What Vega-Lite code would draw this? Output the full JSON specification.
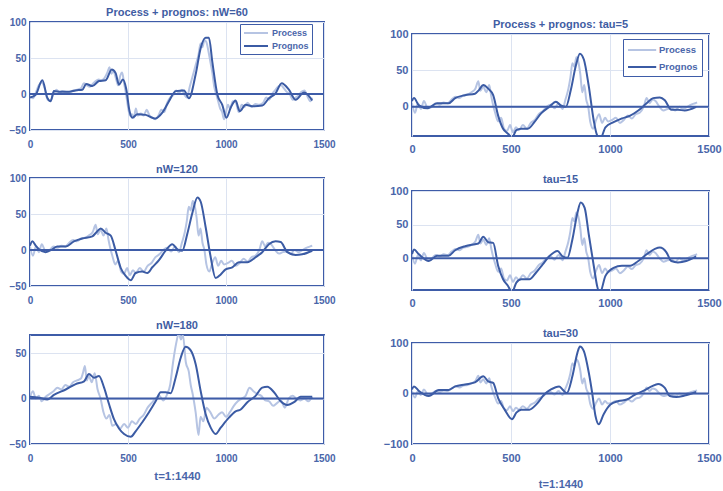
{
"$schema":"https://vega.github.io/schema/vega-lite/v6.json",
"padding":{"left":8,"top":6,"right":0,"bottom":3},
"background":"white",
"datasets":{"d":[
{"p":"P1","s":"Process","t":0,"v":-3},{"p":"P1","s":"Process","t":15,"v":-6},{"p":"P1","s":"Process","t":30,"v":2},{"p":"P1","s":"Process","t":45,"v":12},{"p":"P1","s":"Process","t":60,"v":16},{"p":"P1","s":"Process","t":75,"v":8},{"p":"P1","s":"Process","t":90,"v":-8},{"p":"P1","s":"Process","t":105,"v":-9},{"p":"P1","s":"Process","t":120,"v":0},{"p":"P1","s":"Process","t":135,"v":6},{"p":"P1","s":"Process","t":150,"v":2},{"p":"P1","s":"Process","t":165,"v":4},{"p":"P1","s":"Process","t":180,"v":3},{"p":"P1","s":"Process","t":200,"v":2},{"p":"P1","s":"Process","t":220,"v":5},{"p":"P1","s":"Process","t":240,"v":6},{"p":"P1","s":"Process","t":260,"v":8},{"p":"P1","s":"Process","t":275,"v":15},{"p":"P1","s":"Process","t":290,"v":12},{"p":"P1","s":"Process","t":305,"v":10},{"p":"P1","s":"Process","t":320,"v":14},{"p":"P1","s":"Process","t":335,"v":18},{"p":"P1","s":"Process","t":350,"v":20},{"p":"P1","s":"Process","t":365,"v":19},{"p":"P1","s":"Process","t":380,"v":22},{"p":"P1","s":"Process","t":395,"v":30},{"p":"P1","s":"Process","t":405,"v":37},{"p":"P1","s":"Process","t":415,"v":28},{"p":"P1","s":"Process","t":425,"v":32},{"p":"P1","s":"Process","t":440,"v":20},{"p":"P1","s":"Process","t":450,"v":12},{"p":"P1","s":"Process","t":460,"v":25},{"p":"P1","s":"Process","t":470,"v":30},{"p":"P1","s":"Process","t":480,"v":15},{"p":"P1","s":"Process","t":490,"v":0},{"p":"P1","s":"Process","t":500,"v":-18},{"p":"P1","s":"Process","t":510,"v":-30},{"p":"P1","s":"Process","t":520,"v":-28},{"p":"P1","s":"Process","t":530,"v":-33},{"p":"P1","s":"Process","t":540,"v":-20},{"p":"P1","s":"Process","t":550,"v":-30},{"p":"P1","s":"Process","t":565,"v":-27},{"p":"P1","s":"Process","t":580,"v":-30},{"p":"P1","s":"Process","t":595,"v":-22},{"p":"P1","s":"Process","t":610,"v":-30},{"p":"P1","s":"Process","t":625,"v":-33},{"p":"P1","s":"Process","t":640,"v":-35},{"p":"P1","s":"Process","t":655,"v":-30},{"p":"P1","s":"Process","t":670,"v":-22},{"p":"P1","s":"Process","t":685,"v":-25},{"p":"P1","s":"Process","t":700,"v":-12},{"p":"P1","s":"Process","t":715,"v":-5},{"p":"P1","s":"Process","t":730,"v":-2},{"p":"P1","s":"Process","t":745,"v":5},{"p":"P1","s":"Process","t":760,"v":2},{"p":"P1","s":"Process","t":775,"v":6},{"p":"P1","s":"Process","t":790,"v":-2},{"p":"P1","s":"Process","t":800,"v":-5},{"p":"P1","s":"Process","t":815,"v":10},{"p":"P1","s":"Process","t":830,"v":25},{"p":"P1","s":"Process","t":845,"v":40},{"p":"P1","s":"Process","t":860,"v":55},{"p":"P1","s":"Process","t":870,"v":70},{"p":"P1","s":"Process","t":880,"v":65},{"p":"P1","s":"Process","t":890,"v":75},{"p":"P1","s":"Process","t":900,"v":72},{"p":"P1","s":"Process","t":910,"v":60},{"p":"P1","s":"Process","t":920,"v":45},{"p":"P1","s":"Process","t":930,"v":30},{"p":"P1","s":"Process","t":940,"v":10},{"p":"P1","s":"Process","t":950,"v":0},{"p":"P1","s":"Process","t":960,"v":-10},{"p":"P1","s":"Process","t":970,"v":-20},{"p":"P1","s":"Process","t":980,"v":-25},{"p":"P1","s":"Process","t":990,"v":-35},{"p":"P1","s":"Process","t":1000,"v":-25},{"p":"P1","s":"Process","t":1010,"v":-15},{"p":"P1","s":"Process","t":1020,"v":-20},{"p":"P1","s":"Process","t":1035,"v":-10},{"p":"P1","s":"Process","t":1050,"v":-12},{"p":"P1","s":"Process","t":1065,"v":-25},{"p":"P1","s":"Process","t":1080,"v":-15},{"p":"P1","s":"Process","t":1095,"v":-18},{"p":"P1","s":"Process","t":1110,"v":-12},{"p":"P1","s":"Process","t":1130,"v":-18},{"p":"P1","s":"Process","t":1150,"v":-14},{"p":"P1","s":"Process","t":1170,"v":-15},{"p":"P1","s":"Process","t":1190,"v":-12},{"p":"P1","s":"Process","t":1205,"v":-5},{"p":"P1","s":"Process","t":1220,"v":-8},{"p":"P1","s":"Process","t":1235,"v":0},{"p":"P1","s":"Process","t":1250,"v":5},{"p":"P1","s":"Process","t":1265,"v":10},{"p":"P1","s":"Process","t":1280,"v":12},{"p":"P1","s":"Process","t":1295,"v":8},{"p":"P1","s":"Process","t":1310,"v":3},{"p":"P1","s":"Process","t":1325,"v":0},{"p":"P1","s":"Process","t":1340,"v":-8},{"p":"P1","s":"Process","t":1355,"v":-5},{"p":"P1","s":"Process","t":1370,"v":-2},{"p":"P1","s":"Process","t":1385,"v":3},{"p":"P1","s":"Process","t":1400,"v":5},{"p":"P1","s":"Process","t":1415,"v":-3},{"p":"P1","s":"Process","t":1430,"v":-10},{"p":"P1","s":"Process","t":1440,"v":-5},
{"p":"L1","s":"Prognos","t":0,"v":-5},{"p":"L1","s":"Prognos","t":29,"v":-1},{"p":"L1","s":"Prognos","t":63,"v":19},{"p":"L1","s":"Prognos","t":88,"v":-5},{"p":"L1","s":"Prognos","t":105,"v":-10},{"p":"L1","s":"Prognos","t":122,"v":4},{"p":"L1","s":"Prognos","t":156,"v":3},{"p":"L1","s":"Prognos","t":199,"v":3},{"p":"L1","s":"Prognos","t":233,"v":5},{"p":"L1","s":"Prognos","t":267,"v":6},{"p":"L1","s":"Prognos","t":287,"v":14},{"p":"L1","s":"Prognos","t":318,"v":11},{"p":"L1","s":"Prognos","t":352,"v":18},{"p":"L1","s":"Prognos","t":386,"v":19},{"p":"L1","s":"Prognos","t":417,"v":34},{"p":"L1","s":"Prognos","t":437,"v":29},{"p":"L1","s":"Prognos","t":454,"v":13},{"p":"L1","s":"Prognos","t":474,"v":20},{"p":"L1","s":"Prognos","t":491,"v":7},{"p":"L1","s":"Prognos","t":508,"v":-24},{"p":"L1","s":"Prognos","t":522,"v":-33},{"p":"L1","s":"Prognos","t":548,"v":-28},{"p":"L1","s":"Prognos","t":590,"v":-29},{"p":"L1","s":"Prognos","t":624,"v":-33},{"p":"L1","s":"Prognos","t":641,"v":-34},{"p":"L1","s":"Prognos","t":675,"v":-26},{"p":"L1","s":"Prognos","t":709,"v":-10},{"p":"L1","s":"Prognos","t":743,"v":4},{"p":"L1","s":"Prognos","t":786,"v":5},{"p":"L1","s":"Prognos","t":811,"v":-6},{"p":"L1","s":"Prognos","t":845,"v":27},{"p":"L1","s":"Prognos","t":871,"v":64},{"p":"L1","s":"Prognos","t":896,"v":78},{"p":"L1","s":"Prognos","t":913,"v":78},{"p":"L1","s":"Prognos","t":930,"v":45},{"p":"L1","s":"Prognos","t":956,"v":-1},{"p":"L1","s":"Prognos","t":981,"v":-15},{"p":"L1","s":"Prognos","t":1002,"v":-33},{"p":"L1","s":"Prognos","t":1024,"v":-19},{"p":"L1","s":"Prognos","t":1049,"v":-9},{"p":"L1","s":"Prognos","t":1070,"v":-24},{"p":"L1","s":"Prognos","t":1100,"v":-15},{"p":"L1","s":"Prognos","t":1134,"v":-17},{"p":"L1","s":"Prognos","t":1185,"v":-16},{"p":"L1","s":"Prognos","t":1219,"v":-6},{"p":"L1","s":"Prognos","t":1253,"v":1},{"p":"L1","s":"Prognos","t":1284,"v":15},{"p":"L1","s":"Prognos","t":1321,"v":6},{"p":"L1","s":"Prognos","t":1355,"v":-8},{"p":"L1","s":"Prognos","t":1398,"v":2},{"p":"L1","s":"Prognos","t":1440,"v":-9},
{"p":"PB","s":"Process","t":0,"v":5},{"p":"PB","s":"Process","t":15,"v":-8},{"p":"PB","s":"Process","t":30,"v":5},{"p":"PB","s":"Process","t":45,"v":-3},{"p":"PB","s":"Process","t":60,"v":8},{"p":"PB","s":"Process","t":80,"v":-2},{"p":"PB","s":"Process","t":100,"v":0},{"p":"PB","s":"Process","t":120,"v":5},{"p":"PB","s":"Process","t":140,"v":3},{"p":"PB","s":"Process","t":160,"v":6},{"p":"PB","s":"Process","t":180,"v":5},{"p":"PB","s":"Process","t":200,"v":10},{"p":"PB","s":"Process","t":220,"v":14},{"p":"PB","s":"Process","t":240,"v":12},{"p":"PB","s":"Process","t":260,"v":16},{"p":"PB","s":"Process","t":280,"v":17},{"p":"PB","s":"Process","t":300,"v":20},{"p":"PB","s":"Process","t":320,"v":25},{"p":"PB","s":"Process","t":335,"v":35},{"p":"PB","s":"Process","t":345,"v":22},{"p":"PB","s":"Process","t":360,"v":28},{"p":"PB","s":"Process","t":375,"v":20},{"p":"PB","s":"Process","t":390,"v":30},{"p":"PB","s":"Process","t":400,"v":15},{"p":"PB","s":"Process","t":410,"v":2},{"p":"PB","s":"Process","t":420,"v":-8},{"p":"PB","s":"Process","t":435,"v":-20},{"p":"PB","s":"Process","t":450,"v":-15},{"p":"PB","s":"Process","t":465,"v":-30},{"p":"PB","s":"Process","t":480,"v":-33},{"p":"PB","s":"Process","t":495,"v":-25},{"p":"PB","s":"Process","t":510,"v":-35},{"p":"PB","s":"Process","t":525,"v":-28},{"p":"PB","s":"Process","t":540,"v":-32},{"p":"PB","s":"Process","t":560,"v":-25},{"p":"PB","s":"Process","t":580,"v":-30},{"p":"PB","s":"Process","t":600,"v":-22},{"p":"PB","s":"Process","t":620,"v":-18},{"p":"PB","s":"Process","t":640,"v":-10},{"p":"PB","s":"Process","t":660,"v":-6},{"p":"PB","s":"Process","t":680,"v":0},{"p":"PB","s":"Process","t":700,"v":3},{"p":"PB","s":"Process","t":720,"v":-2},{"p":"PB","s":"Process","t":740,"v":5},{"p":"PB","s":"Process","t":760,"v":-3},{"p":"PB","s":"Process","t":775,"v":10},{"p":"PB","s":"Process","t":790,"v":25},{"p":"PB","s":"Process","t":800,"v":40},{"p":"PB","s":"Process","t":810,"v":60},{"p":"PB","s":"Process","t":820,"v":55},{"p":"PB","s":"Process","t":830,"v":68},{"p":"PB","s":"Process","t":840,"v":62},{"p":"PB","s":"Process","t":850,"v":45},{"p":"PB","s":"Process","t":860,"v":20},{"p":"PB","s":"Process","t":870,"v":30},{"p":"PB","s":"Process","t":880,"v":10},{"p":"PB","s":"Process","t":890,"v":0},{"p":"PB","s":"Process","t":900,"v":-20},{"p":"PB","s":"Process","t":915,"v":-30},{"p":"PB","s":"Process","t":930,"v":-18},{"p":"PB","s":"Process","t":945,"v":-10},{"p":"PB","s":"Process","t":960,"v":-22},{"p":"PB","s":"Process","t":975,"v":-15},{"p":"PB","s":"Process","t":990,"v":-20},{"p":"PB","s":"Process","t":1010,"v":-18},{"p":"PB","s":"Process","t":1030,"v":-15},{"p":"PB","s":"Process","t":1050,"v":-22},{"p":"PB","s":"Process","t":1070,"v":-18},{"p":"PB","s":"Process","t":1090,"v":-12},{"p":"PB","s":"Process","t":1110,"v":-16},{"p":"PB","s":"Process","t":1130,"v":-10},{"p":"PB","s":"Process","t":1150,"v":-8},{"p":"PB","s":"Process","t":1170,"v":0},{"p":"PB","s":"Process","t":1185,"v":12},{"p":"PB","s":"Process","t":1200,"v":5},{"p":"PB","s":"Process","t":1215,"v":10},{"p":"PB","s":"Process","t":1230,"v":8},{"p":"PB","s":"Process","t":1250,"v":0},{"p":"PB","s":"Process","t":1270,"v":-5},{"p":"PB","s":"Process","t":1290,"v":-3},{"p":"PB","s":"Process","t":1310,"v":-2},{"p":"PB","s":"Process","t":1330,"v":-5},{"p":"PB","s":"Process","t":1350,"v":0},{"p":"PB","s":"Process","t":1370,"v":-3},{"p":"PB","s":"Process","t":1390,"v":0},{"p":"PB","s":"Process","t":1410,"v":3},{"p":"PB","s":"Process","t":1430,"v":5},{"p":"PB","s":"Process","t":1440,"v":6},
{"p":"L2","s":"Prognos","t":0,"v":6},{"p":"L2","s":"Prognos","t":12,"v":12},{"p":"L2","s":"Prognos","t":29,"v":6},{"p":"L2","s":"Prognos","t":46,"v":1},{"p":"L2","s":"Prognos","t":80,"v":-3},{"p":"L2","s":"Prognos","t":114,"v":1},{"p":"L2","s":"Prognos","t":139,"v":5},{"p":"L2","s":"Prognos","t":182,"v":5},{"p":"L2","s":"Prognos","t":224,"v":12},{"p":"L2","s":"Prognos","t":267,"v":16},{"p":"L2","s":"Prognos","t":318,"v":19},{"p":"L2","s":"Prognos","t":340,"v":25},{"p":"L2","s":"Prognos","t":361,"v":30},{"p":"L2","s":"Prognos","t":386,"v":24},{"p":"L2","s":"Prognos","t":412,"v":20},{"p":"L2","s":"Prognos","t":437,"v":-1},{"p":"L2","s":"Prognos","t":463,"v":-25},{"p":"L2","s":"Prognos","t":488,"v":-36},{"p":"L2","s":"Prognos","t":514,"v":-42},{"p":"L2","s":"Prognos","t":539,"v":-32},{"p":"L2","s":"Prognos","t":573,"v":-30},{"p":"L2","s":"Prognos","t":599,"v":-32},{"p":"L2","s":"Prognos","t":624,"v":-24},{"p":"L2","s":"Prognos","t":658,"v":-14},{"p":"L2","s":"Prognos","t":692,"v":-1},{"p":"L2","s":"Prognos","t":726,"v":8},{"p":"L2","s":"Prognos","t":752,"v":1},{"p":"L2","s":"Prognos","t":777,"v":-1},{"p":"L2","s":"Prognos","t":803,"v":23},{"p":"L2","s":"Prognos","t":828,"v":51},{"p":"L2","s":"Prognos","t":854,"v":73},{"p":"L2","s":"Prognos","t":871,"v":67},{"p":"L2","s":"Prognos","t":896,"v":32},{"p":"L2","s":"Prognos","t":922,"v":-10},{"p":"L2","s":"Prognos","t":947,"v":-39},{"p":"L2","s":"Prognos","t":973,"v":-34},{"p":"L2","s":"Prognos","t":998,"v":-27},{"p":"L2","s":"Prognos","t":1032,"v":-24},{"p":"L2","s":"Prognos","t":1066,"v":-17},{"p":"L2","s":"Prognos","t":1109,"v":-17},{"p":"L2","s":"Prognos","t":1151,"v":-10},{"p":"L2","s":"Prognos","t":1185,"v":-3},{"p":"L2","s":"Prognos","t":1219,"v":8},{"p":"L2","s":"Prognos","t":1253,"v":12},{"p":"L2","s":"Prognos","t":1279,"v":11},{"p":"L2","s":"Prognos","t":1313,"v":-3},{"p":"L2","s":"Prognos","t":1355,"v":-7},{"p":"L2","s":"Prognos","t":1389,"v":-6},{"p":"L2","s":"Prognos","t":1440,"v":-1},
{"p":"P3","s":"Process","t":0,"v":2},{"p":"P3","s":"Process","t":15,"v":8},{"p":"P3","s":"Process","t":30,"v":0},{"p":"P3","s":"Process","t":45,"v":3},{"p":"P3","s":"Process","t":60,"v":-3},{"p":"P3","s":"Process","t":80,"v":2},{"p":"P3","s":"Process","t":100,"v":5},{"p":"P3","s":"Process","t":120,"v":8},{"p":"P3","s":"Process","t":140,"v":12},{"p":"P3","s":"Process","t":160,"v":10},{"p":"P3","s":"Process","t":180,"v":15},{"p":"P3","s":"Process","t":200,"v":13},{"p":"P3","s":"Process","t":220,"v":18},{"p":"P3","s":"Process","t":240,"v":20},{"p":"P3","s":"Process","t":260,"v":22},{"p":"P3","s":"Process","t":270,"v":28},{"p":"P3","s":"Process","t":280,"v":36},{"p":"P3","s":"Process","t":290,"v":20},{"p":"P3","s":"Process","t":300,"v":25},{"p":"P3","s":"Process","t":315,"v":18},{"p":"P3","s":"Process","t":330,"v":28},{"p":"P3","s":"Process","t":345,"v":10},{"p":"P3","s":"Process","t":360,"v":0},{"p":"P3","s":"Process","t":375,"v":-15},{"p":"P3","s":"Process","t":390,"v":-22},{"p":"P3","s":"Process","t":405,"v":-18},{"p":"P3","s":"Process","t":420,"v":-30},{"p":"P3","s":"Process","t":440,"v":-28},{"p":"P3","s":"Process","t":460,"v":-33},{"p":"P3","s":"Process","t":480,"v":-28},{"p":"P3","s":"Process","t":500,"v":-32},{"p":"P3","s":"Process","t":520,"v":-25},{"p":"P3","s":"Process","t":540,"v":-28},{"p":"P3","s":"Process","t":560,"v":-22},{"p":"P3","s":"Process","t":580,"v":-18},{"p":"P3","s":"Process","t":600,"v":-10},{"p":"P3","s":"Process","t":620,"v":-5},{"p":"P3","s":"Process","t":640,"v":0},{"p":"P3","s":"Process","t":660,"v":3},{"p":"P3","s":"Process","t":680,"v":-2},{"p":"P3","s":"Process","t":700,"v":5},{"p":"P3","s":"Process","t":715,"v":15},{"p":"P3","s":"Process","t":730,"v":40},{"p":"P3","s":"Process","t":745,"v":60},{"p":"P3","s":"Process","t":760,"v":72},{"p":"P3","s":"Process","t":770,"v":65},{"p":"P3","s":"Process","t":780,"v":70},{"p":"P3","s":"Process","t":795,"v":40},{"p":"P3","s":"Process","t":810,"v":30},{"p":"P3","s":"Process","t":820,"v":15},{"p":"P3","s":"Process","t":830,"v":5},{"p":"P3","s":"Process","t":845,"v":-15},{"p":"P3","s":"Process","t":860,"v":-40},{"p":"P3","s":"Process","t":870,"v":-20},{"p":"P3","s":"Process","t":885,"v":-25},{"p":"P3","s":"Process","t":900,"v":-10},{"p":"P3","s":"Process","t":920,"v":-15},{"p":"P3","s":"Process","t":940,"v":-22},{"p":"P3","s":"Process","t":960,"v":-18},{"p":"P3","s":"Process","t":980,"v":-15},{"p":"P3","s":"Process","t":1000,"v":-20},{"p":"P3","s":"Process","t":1020,"v":-15},{"p":"P3","s":"Process","t":1040,"v":-8},{"p":"P3","s":"Process","t":1060,"v":-3},{"p":"P3","s":"Process","t":1080,"v":0},{"p":"P3","s":"Process","t":1100,"v":3},{"p":"P3","s":"Process","t":1120,"v":12},{"p":"P3","s":"Process","t":1140,"v":8},{"p":"P3","s":"Process","t":1160,"v":5},{"p":"P3","s":"Process","t":1180,"v":3},{"p":"P3","s":"Process","t":1200,"v":-2},{"p":"P3","s":"Process","t":1220,"v":-3},{"p":"P3","s":"Process","t":1240,"v":-8},{"p":"P3","s":"Process","t":1260,"v":-5},{"p":"P3","s":"Process","t":1280,"v":-2},{"p":"P3","s":"Process","t":1300,"v":-10},{"p":"P3","s":"Process","t":1320,"v":0},{"p":"P3","s":"Process","t":1340,"v":3},{"p":"P3","s":"Process","t":1360,"v":0},{"p":"P3","s":"Process","t":1380,"v":-2},{"p":"P3","s":"Process","t":1400,"v":0},{"p":"P3","s":"Process","t":1420,"v":-3},{"p":"P3","s":"Process","t":1440,"v":2},
{"p":"L3","s":"Prognos","t":0,"v":2},{"p":"L3","s":"Prognos","t":46,"v":1},{"p":"L3","s":"Prognos","t":88,"v":-1},{"p":"L3","s":"Prognos","t":122,"v":4},{"p":"L3","s":"Prognos","t":182,"v":10},{"p":"L3","s":"Prognos","t":233,"v":16},{"p":"L3","s":"Prognos","t":276,"v":19},{"p":"L3","s":"Prognos","t":301,"v":27},{"p":"L3","s":"Prognos","t":327,"v":23},{"p":"L3","s":"Prognos","t":352,"v":25},{"p":"L3","s":"Prognos","t":378,"v":12},{"p":"L3","s":"Prognos","t":403,"v":-6},{"p":"L3","s":"Prognos","t":429,"v":-23},{"p":"L3","s":"Prognos","t":454,"v":-33},{"p":"L3","s":"Prognos","t":480,"v":-39},{"p":"L3","s":"Prognos","t":514,"v":-42},{"p":"L3","s":"Prognos","t":539,"v":-36},{"p":"L3","s":"Prognos","t":573,"v":-26},{"p":"L3","s":"Prognos","t":607,"v":-15},{"p":"L3","s":"Prognos","t":641,"v":-3},{"p":"L3","s":"Prognos","t":667,"v":7},{"p":"L3","s":"Prognos","t":692,"v":7},{"p":"L3","s":"Prognos","t":718,"v":6},{"p":"L3","s":"Prognos","t":743,"v":23},{"p":"L3","s":"Prognos","t":769,"v":45},{"p":"L3","s":"Prognos","t":794,"v":57},{"p":"L3","s":"Prognos","t":820,"v":53},{"p":"L3","s":"Prognos","t":845,"v":38},{"p":"L3","s":"Prognos","t":871,"v":8},{"p":"L3","s":"Prognos","t":896,"v":-17},{"p":"L3","s":"Prognos","t":922,"v":-32},{"p":"L3","s":"Prognos","t":947,"v":-39},{"p":"L3","s":"Prognos","t":973,"v":-32},{"p":"L3","s":"Prognos","t":1015,"v":-21},{"p":"L3","s":"Prognos","t":1049,"v":-14},{"p":"L3","s":"Prognos","t":1075,"v":-12},{"p":"L3","s":"Prognos","t":1109,"v":-4},{"p":"L3","s":"Prognos","t":1151,"v":3},{"p":"L3","s":"Prognos","t":1185,"v":12},{"p":"L3","s":"Prognos","t":1211,"v":13},{"p":"L3","s":"Prognos","t":1245,"v":7},{"p":"L3","s":"Prognos","t":1279,"v":-3},{"p":"L3","s":"Prognos","t":1313,"v":-7},{"p":"L3","s":"Prognos","t":1347,"v":-4},{"p":"L3","s":"Prognos","t":1381,"v":2},{"p":"L3","s":"Prognos","t":1440,"v":2},
{"p":"R1","s":"Prognos","t":0,"v":8},{"p":"R1","s":"Prognos","t":10,"v":12},{"p":"R1","s":"Prognos","t":35,"v":2},{"p":"R1","s":"Prognos","t":77,"v":-2},{"p":"R1","s":"Prognos","t":127,"v":5},{"p":"R1","s":"Prognos","t":185,"v":5},{"p":"R1","s":"Prognos","t":218,"v":12},{"p":"R1","s":"Prognos","t":268,"v":16},{"p":"R1","s":"Prognos","t":318,"v":18},{"p":"R1","s":"Prognos","t":338,"v":23},{"p":"R1","s":"Prognos","t":360,"v":30},{"p":"R1","s":"Prognos","t":385,"v":25},{"p":"R1","s":"Prognos","t":410,"v":16},{"p":"R1","s":"Prognos","t":435,"v":-12},{"p":"R1","s":"Prognos","t":460,"v":-30},{"p":"R1","s":"Prognos","t":485,"v":-37},{"p":"R1","s":"Prognos","t":505,"v":-42},{"p":"R1","s":"Prognos","t":527,"v":-32},{"p":"R1","s":"Prognos","t":552,"v":-30},{"p":"R1","s":"Prognos","t":585,"v":-30},{"p":"R1","s":"Prognos","t":618,"v":-21},{"p":"R1","s":"Prognos","t":652,"v":-9},{"p":"R1","s":"Prognos","t":693,"v":0},{"p":"R1","s":"Prognos","t":727,"v":7},{"p":"R1","s":"Prognos","t":752,"v":2},{"p":"R1","s":"Prognos","t":777,"v":0},{"p":"R1","s":"Prognos","t":802,"v":23},{"p":"R1","s":"Prognos","t":827,"v":56},{"p":"R1","s":"Prognos","t":848,"v":73},{"p":"R1","s":"Prognos","t":868,"v":65},{"p":"R1","s":"Prognos","t":893,"v":28},{"p":"R1","s":"Prognos","t":918,"v":-19},{"p":"R1","s":"Prognos","t":935,"v":-39},{"p":"R1","s":"Prognos","t":952,"v":-43},{"p":"R1","s":"Prognos","t":977,"v":-28},{"p":"R1","s":"Prognos","t":1018,"v":-21},{"p":"R1","s":"Prognos","t":1060,"v":-16},{"p":"R1","s":"Prognos","t":1102,"v":-12},{"p":"R1","s":"Prognos","t":1143,"v":-5},{"p":"R1","s":"Prognos","t":1185,"v":5},{"p":"R1","s":"Prognos","t":1218,"v":12},{"p":"R1","s":"Prognos","t":1252,"v":13},{"p":"R1","s":"Prognos","t":1277,"v":9},{"p":"R1","s":"Prognos","t":1310,"v":-4},{"p":"R1","s":"Prognos","t":1343,"v":-4},{"p":"R1","s":"Prognos","t":1377,"v":-5},{"p":"R1","s":"Prognos","t":1435,"v":0},
{"p":"R2","s":"Prognos","t":0,"v":6},{"p":"R2","s":"Prognos","t":10,"v":13},{"p":"R2","s":"Prognos","t":35,"v":6},{"p":"R2","s":"Prognos","t":85,"v":-4},{"p":"R2","s":"Prognos","t":127,"v":4},{"p":"R2","s":"Prognos","t":185,"v":4},{"p":"R2","s":"Prognos","t":218,"v":12},{"p":"R2","s":"Prognos","t":268,"v":18},{"p":"R2","s":"Prognos","t":318,"v":21},{"p":"R2","s":"Prognos","t":335,"v":22},{"p":"R2","s":"Prognos","t":360,"v":32},{"p":"R2","s":"Prognos","t":385,"v":24},{"p":"R2","s":"Prognos","t":410,"v":23},{"p":"R2","s":"Prognos","t":435,"v":-11},{"p":"R2","s":"Prognos","t":460,"v":-31},{"p":"R2","s":"Prognos","t":485,"v":-41},{"p":"R2","s":"Prognos","t":505,"v":-50},{"p":"R2","s":"Prognos","t":527,"v":-36},{"p":"R2","s":"Prognos","t":552,"v":-31},{"p":"R2","s":"Prognos","t":593,"v":-31},{"p":"R2","s":"Prognos","t":627,"v":-21},{"p":"R2","s":"Prognos","t":660,"v":-9},{"p":"R2","s":"Prognos","t":693,"v":3},{"p":"R2","s":"Prognos","t":735,"v":11},{"p":"R2","s":"Prognos","t":760,"v":3},{"p":"R2","s":"Prognos","t":785,"v":1},{"p":"R2","s":"Prognos","t":810,"v":28},{"p":"R2","s":"Prognos","t":835,"v":67},{"p":"R2","s":"Prognos","t":852,"v":83},{"p":"R2","s":"Prognos","t":872,"v":75},{"p":"R2","s":"Prognos","t":893,"v":35},{"p":"R2","s":"Prognos","t":918,"v":-11},{"p":"R2","s":"Prognos","t":935,"v":-41},{"p":"R2","s":"Prognos","t":948,"v":-52},{"p":"R2","s":"Prognos","t":977,"v":-26},{"p":"R2","s":"Prognos","t":1018,"v":-14},{"p":"R2","s":"Prognos","t":1060,"v":-11},{"p":"R2","s":"Prognos","t":1102,"v":-11},{"p":"R2","s":"Prognos","t":1143,"v":-4},{"p":"R2","s":"Prognos","t":1185,"v":6},{"p":"R2","s":"Prognos","t":1227,"v":14},{"p":"R2","s":"Prognos","t":1252,"v":16},{"p":"R2","s":"Prognos","t":1285,"v":9},{"p":"R2","s":"Prognos","t":1310,"v":-4},{"p":"R2","s":"Prognos","t":1343,"v":-6},{"p":"R2","s":"Prognos","t":1385,"v":-4},{"p":"R2","s":"Prognos","t":1435,"v":3},
{"p":"R3","s":"Prognos","t":0,"v":8},{"p":"R3","s":"Prognos","t":10,"v":14},{"p":"R3","s":"Prognos","t":35,"v":5},{"p":"R3","s":"Prognos","t":85,"v":-5},{"p":"R3","s":"Prognos","t":135,"v":7},{"p":"R3","s":"Prognos","t":185,"v":7},{"p":"R3","s":"Prognos","t":218,"v":14},{"p":"R3","s":"Prognos","t":268,"v":18},{"p":"R3","s":"Prognos","t":318,"v":22},{"p":"R3","s":"Prognos","t":360,"v":34},{"p":"R3","s":"Prognos","t":385,"v":24},{"p":"R3","s":"Prognos","t":410,"v":21},{"p":"R3","s":"Prognos","t":435,"v":-9},{"p":"R3","s":"Prognos","t":468,"v":-32},{"p":"R3","s":"Prognos","t":505,"v":-51},{"p":"R3","s":"Prognos","t":527,"v":-38},{"p":"R3","s":"Prognos","t":552,"v":-32},{"p":"R3","s":"Prognos","t":593,"v":-32},{"p":"R3","s":"Prognos","t":627,"v":-22},{"p":"R3","s":"Prognos","t":668,"v":-2},{"p":"R3","s":"Prognos","t":702,"v":8},{"p":"R3","s":"Prognos","t":743,"v":14},{"p":"R3","s":"Prognos","t":760,"v":8},{"p":"R3","s":"Prognos","t":782,"v":1},{"p":"R3","s":"Prognos","t":810,"v":34},{"p":"R3","s":"Prognos","t":835,"v":80},{"p":"R3","s":"Prognos","t":848,"v":93},{"p":"R3","s":"Prognos","t":868,"v":84},{"p":"R3","s":"Prognos","t":893,"v":41},{"p":"R3","s":"Prognos","t":910,"v":1},{"p":"R3","s":"Prognos","t":927,"v":-45},{"p":"R3","s":"Prognos","t":943,"v":-61},{"p":"R3","s":"Prognos","t":968,"v":-41},{"p":"R3","s":"Prognos","t":1002,"v":-22},{"p":"R3","s":"Prognos","t":1043,"v":-15},{"p":"R3","s":"Prognos","t":1085,"v":-12},{"p":"R3","s":"Prognos","t":1127,"v":-2},{"p":"R3","s":"Prognos","t":1168,"v":5},{"p":"R3","s":"Prognos","t":1210,"v":14},{"p":"R3","s":"Prognos","t":1243,"v":19},{"p":"R3","s":"Prognos","t":1277,"v":11},{"p":"R3","s":"Prognos","t":1302,"v":-5},{"p":"R3","s":"Prognos","t":1335,"v":-7},{"p":"R3","s":"Prognos","t":1377,"v":-4},{"p":"R3","s":"Prognos","t":1435,"v":3}
]},
"hconcat":[
{"spacing":13,"align":"none","resolve":{"scale":{"color":"independent"}},"vconcat":[
 {"width":294,"height":108,"title":{"text":"Process + prognos: nW=60","offset":-1},"layer":[
  {"data":{"name":"d"},"transform":[{"filter":"datum.p=='P1' || datum.p=='L1'"}],"mark":{"type":"line","clip":true,"strokeWidth":2,"interpolate":"monotone"},
   "encoding":{"x":{"field":"t","type":"quantitative","scale":{"domain":[0,1500],"nice":false},"axis":{"values":[0,500,1000,1500],"format":"d","title":null,"labelPadding":9}},
   "y":{"field":"v","type":"quantitative","scale":{"domain":[-50,100],"nice":false},"axis":{"values":[-50,0,50,100],"title":null}},
   "color":{"field":"s","type":"nominal","scale":{"domain":["Process","Prognos"],"range":["#b6c4e3","#3b5ba4"]},
     "legend":{"orient":"none","legendX":210,"legendY":2,"title":null,"symbolType":"M-1,0H3.8","symbolStrokeWidth":2,"symbolSize":100,"strokeColor":"#3e5ca8","fillColor":"white","padding":3,"rowPadding":2,"labelFontSize":9,"labelFont":"Liberation Sans","labelFontWeight":"bold","labelColor":"#4a66aa","labelOffset":17}}}},
  {"data":{"values":[{}]},"mark":{"type":"rule","color":"#3e5ca8","strokeWidth":2},"encoding":{"y":{"datum":0,"type":"quantitative","axis":{"values":[-50,0,50,100],"title":null}}}}
 ]},
 {"width":294,"height":108,"title":{"text":"nW=120","offset":-2},"layer":[
  {"data":{"name":"d"},"transform":[{"filter":"datum.p=='PB' || datum.p=='L2'"}],"mark":{"type":"line","clip":true,"strokeWidth":2,"interpolate":"monotone"},
   "encoding":{"x":{"field":"t","type":"quantitative","scale":{"domain":[0,1500],"nice":false},"axis":{"values":[0,500,1000,1500],"format":"d","title":null,"labelPadding":9}},
   "y":{"field":"v","type":"quantitative","scale":{"domain":[-50,100],"nice":false},"axis":{"values":[-50,0,50,100],"title":null}},
   "color":{"field":"s","type":"nominal","scale":{"domain":["Process","Prognos"],"range":["#b6c4e3","#3b5ba4"]},"legend":null}}},
  {"data":{"values":[{}]},"mark":{"type":"rule","color":"#3e5ca8","strokeWidth":2},"encoding":{"y":{"datum":0,"type":"quantitative","axis":{"values":[-50,0,50,100],"title":null}}}}
 ]},
 {"width":294,"height":109,"title":{"text":"nW=180","offset":4},"layer":[
  {"data":{"name":"d"},"transform":[{"filter":"datum.p=='P3' || datum.p=='L3'"}],"mark":{"type":"line","clip":true,"strokeWidth":2,"interpolate":"monotone"},
   "encoding":{"x":{"field":"t","type":"quantitative","scale":{"domain":[0,1500],"nice":false},"axis":{"values":[0,500,1000,1500],"format":"d","title":"t=1:1440","labelPadding":9,"titlePadding":7,"titleFontSize":11.5}},
   "y":{"field":"v","type":"quantitative","scale":{"domain":[-50,70],"nice":false},"axis":{"values":[-50,0,50],"title":null}},
   "color":{"field":"s","type":"nominal","scale":{"domain":["Process","Prognos"],"range":["#b6c4e3","#3b5ba4"]},"legend":null}}},
  {"data":{"values":[{}]},"mark":{"type":"rule","color":"#3e5ca8","strokeWidth":2},"encoding":{"y":{"datum":0,"type":"quantitative","axis":{"values":[-50,0,50],"title":null}}}}
 ]}
]},
{"spacing":-5,"align":"none","resolve":{"scale":{"color":"independent"}},"vconcat":[
 {"width":297,"height":1,"data":{"values":[]},"mark":{"type":"point"},"encoding":{},"view":{"stroke":null}},
 {"spacing":18,"align":"none","resolve":{"scale":{"color":"independent"}},"vconcat":[
 {"width":297,"height":102,"title":{"text":"Process + prognos: tau=5","offset":-2},"layer":[
  {"data":{"name":"d"},"transform":[{"filter":"datum.p=='PB' || datum.p=='R1'"}],"mark":{"type":"line","clip":true,"strokeWidth":2,"interpolate":"monotone"},
   "encoding":{"x":{"field":"t","type":"quantitative","scale":{"domain":[0,1500],"nice":false},"axis":{"values":[0,500,1000,1500],"format":"d","title":null,"labelPadding":7,"labelFontSize":11}},
   "y":{"field":"v","type":"quantitative","scale":{"domain":[-40,100],"nice":false},"axis":{"values":[0,50,100],"title":null,"labelFontSize":11}},
   "color":{"field":"s","type":"nominal","scale":{"domain":["Process","Prognos"],"range":["#b6c4e3","#3b5ba4"]},
     "legend":{"orient":"none","legendX":211,"legendY":5,"title":null,"symbolType":"M-1,0H3.7","symbolStrokeWidth":2,"symbolSize":144,"strokeColor":"#3e5ca8","fillColor":"white","padding":4,"rowPadding":5,"labelFontSize":9.5,"labelFont":"Liberation Sans","labelFontWeight":"bold","labelColor":"#4a66aa","labelOffset":18}}}},
  {"data":{"values":[{}]},"mark":{"type":"rule","color":"#3e5ca8","strokeWidth":2},"encoding":{"y":{"datum":0,"type":"quantitative","axis":{"values":[0,50,100],"title":null,"labelFontSize":11}}}}
 ]},
 {"width":297,"height":99,"title":{"text":"tau=15","offset":0},"layer":[
  {"data":{"name":"d"},"transform":[{"filter":"datum.p=='PB' || datum.p=='R2'"}],"mark":{"type":"line","clip":true,"strokeWidth":2,"interpolate":"monotone"},
   "encoding":{"x":{"field":"t","type":"quantitative","scale":{"domain":[0,1500],"nice":false},"axis":{"values":[0,500,1000,1500],"format":"d","title":null,"labelPadding":7,"labelFontSize":11}},
   "y":{"field":"v","type":"quantitative","scale":{"domain":[-47,100],"nice":false},"axis":{"values":[0,50,100],"title":null,"labelFontSize":11}},
   "color":{"field":"s","type":"nominal","scale":{"domain":["Process","Prognos"],"range":["#b6c4e3","#3b5ba4"]},"legend":null}}},
  {"data":{"values":[{}]},"mark":{"type":"rule","color":"#3e5ca8","strokeWidth":2},"encoding":{"y":{"datum":0,"type":"quantitative","axis":{"values":[0,50,100],"title":null,"labelFontSize":11}}}}
 ]},
 {"width":297,"height":101,"title":{"text":"tau=30","offset":-2},"layer":[
  {"data":{"name":"d"},"transform":[{"filter":"datum.p=='PB' || datum.p=='R3'"}],"mark":{"type":"line","clip":true,"strokeWidth":2,"interpolate":"monotone"},
   "encoding":{"x":{"field":"t","type":"quantitative","scale":{"domain":[0,1500],"nice":false},"axis":{"values":[0,500,1000,1500],"format":"d","title":"t=1:1440","labelPadding":8,"labelFontSize":11,"titlePadding":15,"titleFontSize":11}},
   "y":{"field":"v","type":"quantitative","scale":{"domain":[-100,100],"nice":false},"axis":{"values":[-100,0,100],"title":null,"labelFontSize":11}},
   "color":{"field":"s","type":"nominal","scale":{"domain":["Process","Prognos"],"range":["#b6c4e3","#3b5ba4"]},"legend":null}}},
  {"data":{"values":[{}]},"mark":{"type":"rule","color":"#3e5ca8","strokeWidth":2},"encoding":{"y":{"datum":0,"type":"quantitative","axis":{"values":[-100,0,100],"title":null,"labelFontSize":11}}}}
 ]}
 ]}
]}
],
"spacing":45,
"align":"none",
"resolve":{"scale":{"color":"independent"}},
"config":{
 "view":{"stroke":"#3e5ca8","strokeWidth":2},
 "axis":{"domain":false,"ticks":false,"grid":true,"gridColor":"#dce3f1","gridWidth":1,"labelFont":"Liberation Sans","labelFontWeight":"bold","labelColor":"#4a66aa","labelFontSize":10,"labelFlush":false,"labelOverlap":false,"labelPadding":4,"titleFont":"Liberation Sans","titleFontWeight":"bold","titleColor":"#4a66aa","titleFontSize":11.5},
 "title":{"font":"Liberation Sans","fontWeight":"bold","fontSize":11,"color":"#3f5da3"}
}
}
